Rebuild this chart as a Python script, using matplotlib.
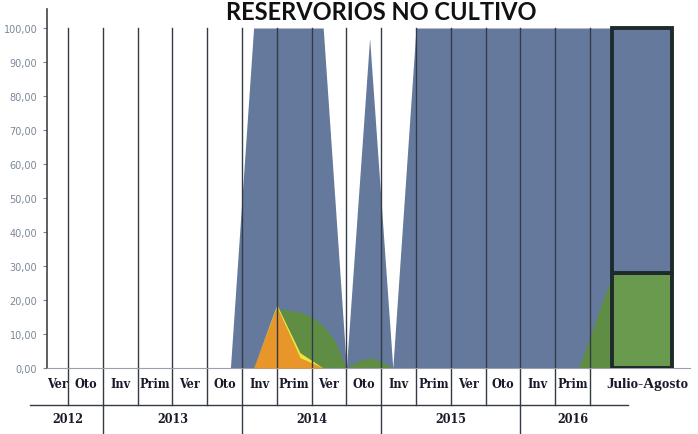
import matplotlib
matplotlib.use('Agg')
import matplotlib.pyplot as plt
import numpy as np

# season labels (row 1) and years (row 2)
seasons=['Ver','Oto','Inv','Prim','Ver','Oto','Inv','Prim','Ver','Oto','Inv','Prim','Ver','Oto','Inv','Prim']
years=['2012','2013','2014','2015','2016']
year_span=[(0,2),(2,6),(6,10),(10,14),(14,17)]
last_label='Julio-Agosto'

# monthly positions (month 0 = start of Ver 2012), values in %
blue_months=[0,17,19,25,27,29,31,33,50]
blue_vals=[0,0,100,100,0,97,0,100,100]

green_months=[0,19,21,22,23,24,25,26,27,28,29,30,31,47,48,49,50]
green_vals=[0,0,17.5,17,16.5,15,12.5,8,0,2,3,2,0,0,9,19,28]

orange_months=[0,19,21,23,25]
orange_vals=[0,0,18,3,0]
yellow_vals=[0,0,0.6,1.5,0]

# Julio-Agosto box
ja_green=28
ja_blue=100-ja_green

c_blue='#64799b'
c_green='#5f8d43'
c_green2='#6a9a4e'
c_orange='#e8962a'
c_yellow='#f4e23c'
c_line='#333c46'

fig=plt.figure(figsize=(6.98,4.35),dpi=100)
W,H=698.,435.
ax=fig.add_axes([47/W,(H-369)/H,(690-47)/W,(369-10)/H])

def cat(m):
    return np.asarray(m,dtype=float)/3.

ax.fill_between(cat(blue_months),0,blue_vals,color=c_blue,lw=0,zorder=1)
ax.fill_between(cat(green_months),0,green_vals,color=c_green,lw=0,zorder=2)
ov=np.array(orange_vals)
ax.fill_between(cat(orange_months),0,ov,color=c_orange,lw=0,zorder=3)
ax.fill_between(cat(orange_months),ov,ov+np.array(yellow_vals),color=c_yellow,lw=0,zorder=3)

# Julio-Agosto stacked box
ax.bar(17.5,ja_green,width=1.72,color=c_green2,edgecolor='#1e2a2c',linewidth=2.8,zorder=4)
ax.bar(17.5,ja_blue,bottom=ja_green,width=1.72,color=c_blue,edgecolor='#1e2a2c',linewidth=2.8,zorder=4)

# vertical dividers through plot and first label row
xt=ax.get_xaxis_transform()
for b in range(1,17):
    ax.plot([b,b],[0,100],color=c_line,lw=1.0,zorder=5)
    ax.plot([b,b],[0,-0.103],color=c_line,lw=1.0,transform=xt,clip_on=False)
for s,e in year_span[1:]:
    ax.plot([s,s],[-0.103,-0.2],color=c_line,lw=1.0,transform=xt,clip_on=False)
ax.plot([-0.08,17.1],[-0.103,-0.103],color=c_line,lw=1.0,transform=xt,clip_on=False)

lab_font=dict(family=['DejaVu Serif'],fontstretch='condensed',fontweight='bold',color='#1a1a2a')
pos=np.arange(len(seasons))+0.5
pos[0]=0.7
for p,t in zip(pos,seasons):
    ax.text(p,-0.042,t,transform=xt,ha='center',va='center',fontsize=9,**lab_font)
for (s,e),y in zip(year_span,years):
    ax.text((s+e)/2.,-0.14,y,transform=xt,ha='center',va='center',fontsize=9,**lab_font)
ax.text(17.64,-0.042,last_label,transform=xt,ha='center',va='center',fontsize=11,
        family=['Liberation Serif'],fontweight='bold',color='#1a1a2a')

ax.set_xlim((47-33.2)/34.8,(690-33.2)/34.8)
ax.set_ylim(0,100+19/3.4)
ax.set_yticks(np.arange(0,101,10))
ax.set_yticklabels([('%.2f'%v).replace('.',',') for v in np.arange(0,101,10)])
ax.tick_params(axis='y',labelsize=7,colors='#7a8799',length=3,width=0.8,pad=4)
ax.set_xticks([])
for s in ['top','right']:
    ax.spines[s].set_visible(False)
ax.spines['left'].set_color('#444444')
ax.spines['left'].set_linewidth(1.2)
ax.spines['bottom'].set_color('#9aa0a8')
ax.spines['bottom'].set_linewidth(0.8)

fig.text(381/W,1-1/H,'RESERVORIOS NO CULTIVO',ha='center',va='top',
         fontsize=17,fontweight='bold',family=['Lato'],color='#111111')

fig.savefig('out.png',dpi=100)
